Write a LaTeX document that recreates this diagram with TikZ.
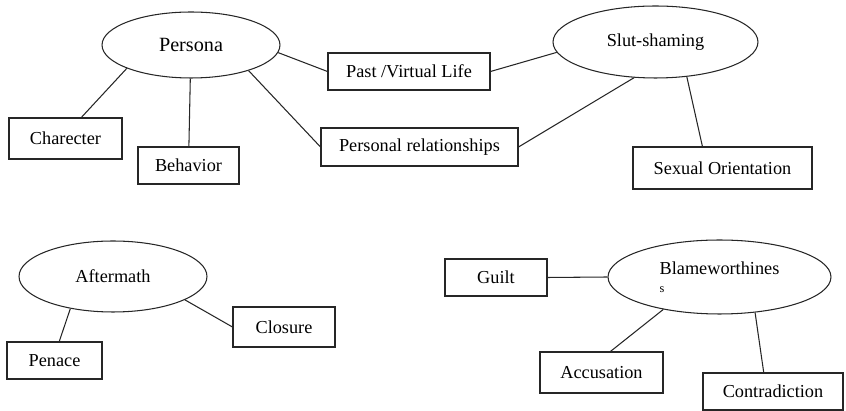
\documentclass[tikz,border=0pt]{standalone}
\usepackage{fontspec}
\setmainfont{Liberation Serif}
\usetikzlibrary{shapes.geometric}

\tikzset{
  theme/.style={ellipse, draw=linecol, line width=0.6pt, inner sep=0pt, font=\fontsize{10.4}{12.5}\selectfont},
  code/.style={rectangle, draw=linecol, line width=0.6pt, inner sep=0pt, font=\fontsize{10.4}{12.5}\selectfont},
  link/.style={draw=linecol, line width=0.6pt}
}

\begin{document}
\begin{tikzpicture}[x=0.02cm, y=-0.02cm]
  \colorlet{linecol}{black!85}

  \useasboundingbox (0,0) rectangle (846,411);

  % persona & slut-shaming
  \node[theme, minimum width=3.56cm, minimum height=1.32cm, font=\fontsize{11.5}{13}\selectfont] (persona) at (191,45) {Persona};
  \node[theme, minimum width=4.1cm, minimum height=1.44cm] (slut) at (655.5,42) {Slut-shaming};

  \node[code, minimum width=3.24cm, minimum height=0.74cm] (past) at (409,71.5) {Past /Virtual Life};
  \node[code, minimum width=2.26cm, minimum height=0.82cm] (charecter) at (65.5,138.5) {Charecter};
  \node[code, minimum width=2.02cm, minimum height=0.74cm] (behavior) at (188.5,165.5) {Behavior};
  \node[code, minimum width=3.94cm, minimum height=0.76cm] (relations) at (419.5,147) {Personal relationships};
  \node[code, minimum width=3.58cm, minimum height=0.84cm] (orientation) at (722.5,168) {Sexual Orientation};

  \draw[link] (persona.200) -- (charecter.53);
  \draw[link] (persona) -- (behavior);
  \draw[link] (persona.355) -- (past.west);
  \draw[link] (persona.336) -- (relations.west);
  \draw[link] (slut.186) -- (past.east);
  \draw[link] (slut.239) -- (relations.east);
  \draw[link] (slut.312) -- (orientation.133);

  % aftermath
  \node[theme, minimum width=3.76cm, minimum height=1.42cm] (aftermath) at (113,276.5) {Aftermath};
  \node[code, minimum width=2.04cm, minimum height=0.8cm] (closure) at (284,327) {Closure};
  \node[code, minimum width=1.9cm, minimum height=0.74cm] (penace) at (54.5,360.5) {Penace};

  \draw[link] (aftermath.217) -- (penace.76);
  \draw[link] (aftermath.342) -- (closure.west);

  % blameworthiness
  \node[theme, minimum width=4.46cm, minimum height=1.48cm, align=left] (blame) at (719.5,277) {Blameworthines\\[-2pt]{\scriptsize s}};
  \node[code, minimum width=2.04cm, minimum height=0.74cm] (guilt) at (496,277.5) {Guilt};
  \node[code, minimum width=2.46cm, minimum height=0.82cm] (accusation) at (601.5,372.5) {Accusation};
  \node[code, minimum width=2.8cm, minimum height=0.74cm] (contradiction) at (773,391.5) {Contradiction};

  \draw[link] (guilt.east) -- (blame.west);
  \draw[link] (blame.210) -- (accusation.67);
  \draw[link] (blame.315) -- (contradiction.116);

\end{tikzpicture}
\end{document}
